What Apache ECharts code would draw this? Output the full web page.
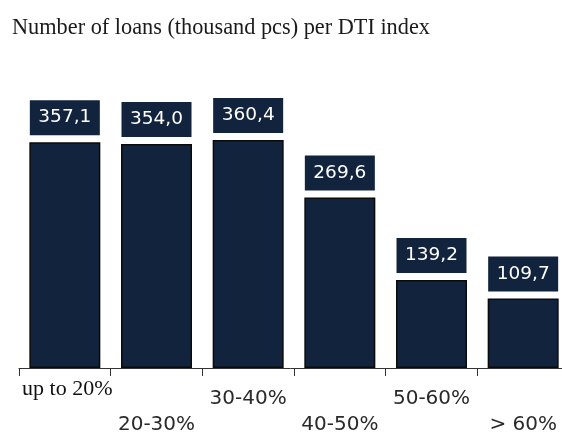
<!DOCTYPE html>
<html>
<head>
<meta charset="utf-8">
<script src="https://cdn.jsdelivr.net/npm/echarts@6/dist/echarts.min.js"></script>
<style>
html,body{margin:0;padding:0;background:#fff;}
#chart{width:562px;height:432px;}
</style>
</head>
<body>
<div id="chart"></div>
<script>
const titleText = 'Number of loans (thousand pcs) per DTI index';
const categories = ['up to 20%', '20-30%', '30-40%', '40-50%', '50-60%', '> 60%'];
const values = [357.1, 354.0, 360.4, 269.6, 139.2, 109.7];

const navy = '#12233e';
const chart = echarts.init(document.getElementById('chart'), null, {renderer: 'canvas'});

function axisLabelFor(filter, style) {
  return Object.assign({
    show: true,
    interval: 0,
    formatter: function (val, idx) { return filter(idx) ? val : ''; }
  }, style);
}

const option = {
  backgroundColor: '#ffffff',
  animation: false,
  title: {
    text: titleText,
    left: 7,
    top: 12,
    textStyle: {fontFamily: 'Liberation Serif', fontSize: 22.3, fontWeight: 'normal', color: '#1a1a1a'}
  },
  grid: {left: 19, top: 115, width: 550, bottom: 64, containLabel: false, outerBoundsMode: 'none'},
  xAxis: [
    {
      type: 'category', data: categories, position: 'bottom', offset: 0,
      axisLine: {show: true, lineStyle: {color: '#333', width: 1}},
      axisTick: {show: true, length: 8, alignWithLabel: false, lineStyle: {color: '#333', width: 1}},
      axisLabel: axisLabelFor(i => i === 0, {margin: 10, fontFamily: 'Liberation Serif', fontSize: 22, color: '#111', padding: [0, 0, 0, 5]})
    },
    {
      type: 'category', data: categories, position: 'bottom', offset: 0,
      axisLine: {show: false}, axisTick: {show: false},
      axisLabel: axisLabelFor(i => i === 2 || i === 4, {margin: 21, fontFamily: 'DejaVu Sans', fontSize: 20, color: '#2a2a2a'})
    },
    {
      type: 'category', data: categories, position: 'bottom', offset: 0,
      axisLine: {show: false}, axisTick: {show: false},
      axisLabel: axisLabelFor(i => i % 2 === 1, {margin: 47, fontFamily: 'DejaVu Sans', fontSize: 20, color: '#2a2a2a'})
    }
  ],
  yAxis: {type: 'value', min: 0, max: 400, show: false, splitLine: {show: false}},
  series: [{
    type: 'bar',
    xAxisIndex: 0,
    data: values,
    barWidth: 71,
    itemStyle: {color: navy, borderColor: '#0a0a0a', borderWidth: 1.5},
    label: {
      show: true,
      position: 'top',
      distance: 7,
      formatter: p => p.value.toFixed(1).replace('.', ','),
      backgroundColor: navy,
      color: '#ffffff',
      fontFamily: 'DejaVu Sans',
      fontSize: 18.5,
      width: 70,
      lineHeight: 19,
      padding: [8, 0, 8, 0],
      align: 'center'
    }
  }]
};
chart.setOption(option);
</script>
</body>
</html>
